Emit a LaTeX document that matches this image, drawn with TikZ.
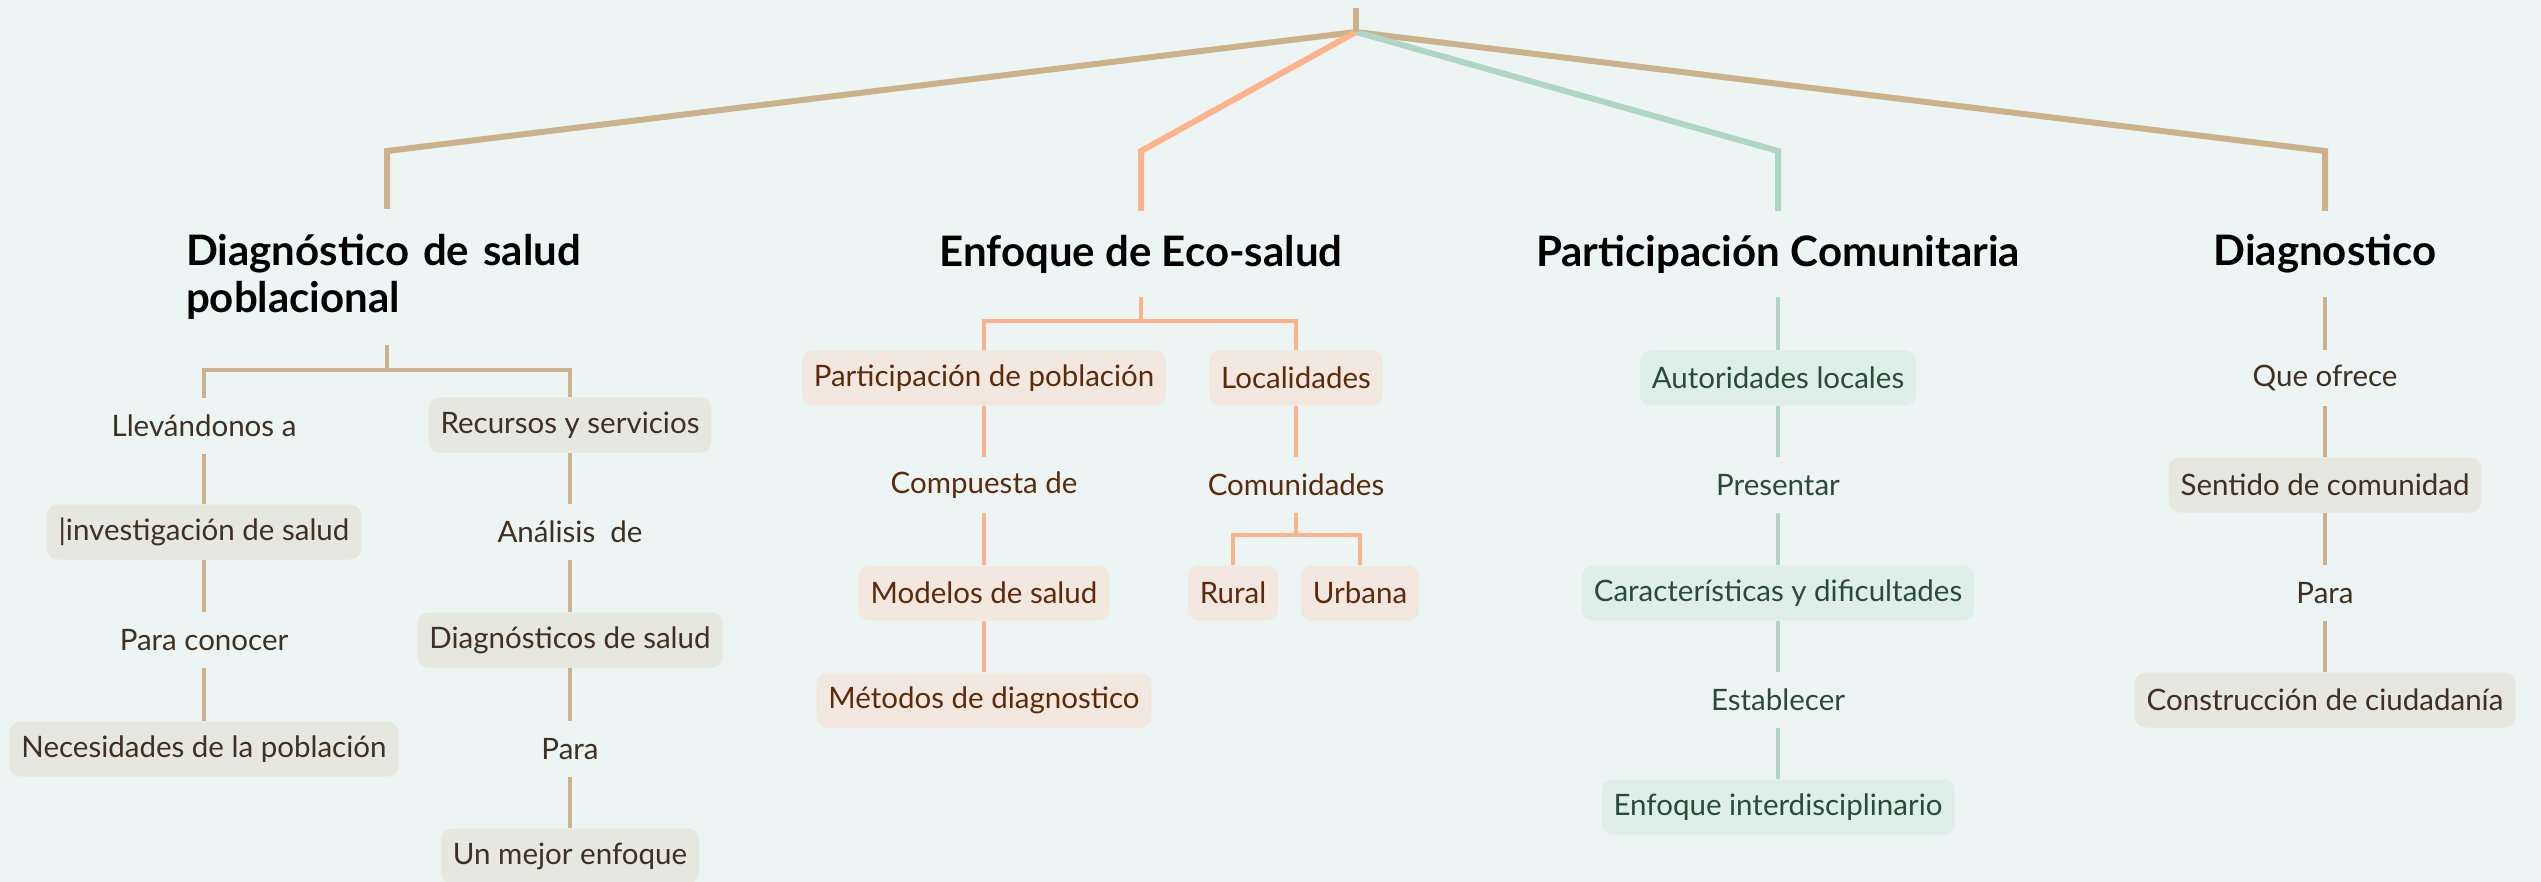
\documentclass[tikz,border=0pt]{standalone}
\usepackage{fontspec}
\setmainfont{Lato}
\definecolor{bg}{HTML}{ECF5F4}
\definecolor{brownline}{HTML}{CDB08C}
\definecolor{orangeline}{HTML}{FFB38A}
\definecolor{greenline}{HTML}{B0D5C4}
\definecolor{brownbox}{HTML}{E6E7DF}
\definecolor{browntext}{HTML}{3E3022}
\definecolor{orangebox}{HTML}{F3E8DF}
\definecolor{orangetext}{HTML}{5E2A0C}
\definecolor{greenbox}{HTML}{DEEFE9}
\definecolor{greentext}{HTML}{2B4A3B}
\tikzset{
  bx/.style={rounded corners=11pt, minimum height=55pt, inner xsep=12pt, font=\fontsize{29.5}{34}\selectfont},
  bbox/.style={bx, fill=brownbox, text=browntext},
  btxt/.style={bx, text=browntext},
  obox/.style={bx, fill=orangebox, text=orangetext},
  otxt/.style={bx, text=orangetext},
  gbox/.style={bx, fill=greenbox, text=greentext},
  gtxt/.style={bx, text=greentext},
  hd/.style={font=\fontsize{42}{47}\selectfont\bfseries, text=black, minimum height=86pt, inner sep=0pt},
  mainl/.style={line width=6pt, line join=miter},
  bl/.style={draw=brownline, line width=4pt},
  ol/.style={draw=orangeline, line width=4pt},
  gl/.style={draw=greenline, line width=4pt},
}
\begin{document}
\begin{tikzpicture}[x=1pt,y=-1pt]
\useasboundingbox (0,0) rectangle (2541,882);
\fill[bg] (0,0) rectangle (2541,882);

% root
\coordinate (rtop) at (1356,8);
\coordinate (root) at (1356,32);

% headings
\node[hd, text width=402pt, align=left, minimum height=136pt] (h1) at (387,277) {Diagnóstico de salud\\poblacional};
\node[hd] (h2) at (1141,254) {Enfoque de Eco-salud};
\node[hd] (h3) at (1778,254) {Participación Comunitaria};
\node[hd] (h4) at (2325,254) {Diagnostico};

% column 1
\node[btxt] (a1) at (204,426) {Llevándonos a};
\node[bbox] (a2) at (204,532) {|investigación de salud};
\node[btxt] (a3) at (204,640) {Para conocer};
\node[bbox] (a4) at (204,749) {Necesidades de la población};
\node[bbox] (b1) at (570,425) {Recursos y servicios};
\node[btxt] (b2) at (570,532) {Análisis~ de};
\node[bbox] (b3) at (570,640) {Diagnósticos de salud};
\node[btxt] (b4) at (570,749) {Para};
\node[bbox] (b5) at (570,856) {Un mejor enfoque};

% column 2
\node[obox] (o1) at (984,378) {Participación de población};
\node[obox] (o2) at (1296,378) {Localidades};
\node[otxt] (o3) at (984,485) {Compuesta de};
\node[otxt] (o4) at (1296,485) {Comunidades};
\node[obox] (o5) at (984,593) {Modelos de salud};
\node[obox] (o6) at (984,700) {Métodos de diagnostico};
\node[obox] (o7) at (1233,593) {Rural};
\node[obox] (o8) at (1360,593) {Urbana};

% column 3
\node[gbox] (g1) at (1778,378) {Autoridades locales};
\node[gtxt] (g2) at (1778,485) {Presentar};
\node[gbox] (g3) at (1778,593) {Características y dificultades};
\node[gtxt] (g4) at (1778,700) {Establecer};
\node[gbox] (g5) at (1778,807) {Enfoque interdisciplinario};

% column 4
\node[btxt] (d1) at (2325,378) {Que ofrece};
\node[bbox] (d2) at (2325,485) {Sentido de comunidad};
\node[btxt] (d3) at (2325,593) {Para};
\node[bbox] (d4) at (2325,700) {Construcción de ciudadanía};

% main connectors
\draw[mainl, draw=brownline] (root) -- (h1.north |- 0,151) -- (h1.north);
\draw[mainl, draw=brownline] (root) -- (h4.north |- 0,151) -- (h4.north);
\draw[mainl, draw=greenline] (root) -- (h3.north |- 0,151) -- (h3.north);
\draw[mainl, draw=orangeline] (root) -- (h2.north |- 0,151) -- (h2.north);
\draw[mainl, draw=brownline] (rtop) -- (root);

% column 1 connectors
\draw[bl] (h1.south) -- (h1.south |- 0,370) -| (a1.north);
\draw[bl] (h1.south |- 0,370) -| (b1.north);
\draw[bl] (a1) -- (a2);
\draw[bl] (a2) -- (a3);
\draw[bl] (a3) -- (a4);
\draw[bl] (b1) -- (b2);
\draw[bl] (b2) -- (b3);
\draw[bl] (b3) -- (b4);
\draw[bl] (b4) -- (b5);

% column 2 connectors
\draw[ol] (h2.south) -- (h2.south |- 0,321) -| (o1.north);
\draw[ol] (h2.south |- 0,321) -| (o2.north);
\draw[ol] (o1) -- (o3);
\draw[ol] (o3) -- (o5);
\draw[ol] (o5) -- (o6);
\draw[ol] (o2) -- (o4);
\draw[ol] (o4.south) -- (o4.south |- 0,535) -| (o7.north);
\draw[ol] (o4.south |- 0,535) -| (o8.north);

% column 3 connectors
\draw[gl] (h3.south) -- (g1.north);
\draw[gl] (g1) -- (g2);
\draw[gl] (g2) -- (g3);
\draw[gl] (g3) -- (g4);
\draw[gl] (g4) -- (g5);

% column 4 connectors
\draw[bl] (h4.south) -- (d1.north);
\draw[bl] (d1) -- (d2);
\draw[bl] (d2) -- (d3);
\draw[bl] (d3) -- (d4);
\end{tikzpicture}
\end{document}
